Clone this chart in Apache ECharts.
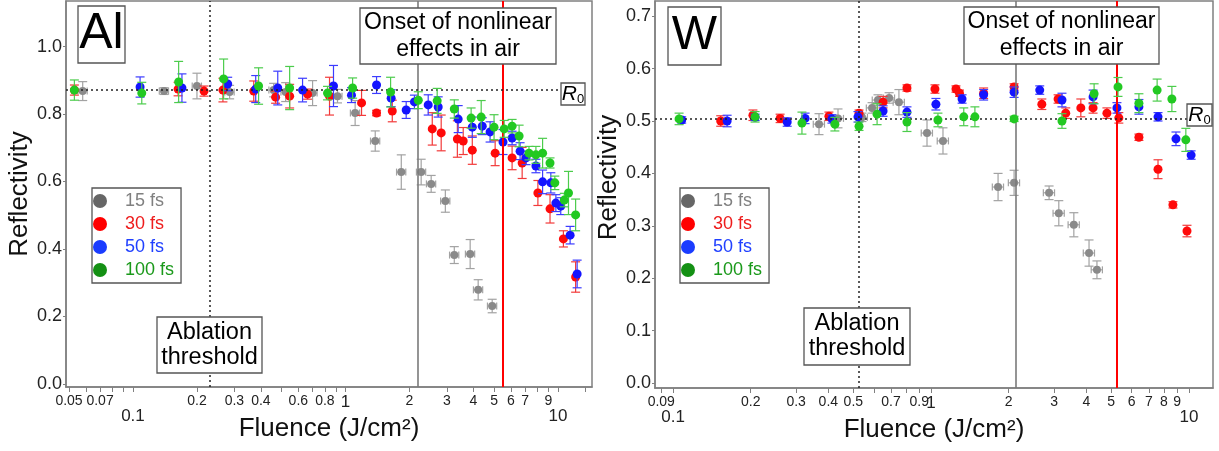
<!DOCTYPE html>
<html><head><meta charset="utf-8">
<script src="https://cdn.jsdelivr.net/npm/echarts@6/dist/echarts.min.js"></script>
<style>html,body{margin:0;padding:0;background:#fff}#c{width:1219px;height:451px}</style>
</head><body><div id="c"></div>
<script>
const seriesNames = ['15 fs', '30 fs', '50 fs', '100 fs'];

// ---- Al panel data (fluence J/cm2, reflectivity, y error) ----
const al15F = [0.058, 0.140, 0.200, 0.285, 0.459, 0.523, 0.700, 0.917, 1.11, 1.38, 1.83, 2.27, 2.53, 2.95, 3.25, 3.86, 4.21, 4.90];
const al15R = [0.868, 0.868, 0.883, 0.865, 0.871, 0.865, 0.862, 0.853, 0.803, 0.720, 0.628, 0.628, 0.593, 0.542, 0.382, 0.385, 0.279, 0.231];
const al15E = [0.028, 0.010, 0.038, 0.020, 0.020, 0.028, 0.037, 0.020, 0.037, 0.030, 0.051, 0.038, 0.025, 0.033, 0.025, 0.043, 0.030, 0.020];

const al30F = [0.053, 0.163, 0.216, 0.265, 0.370, 0.469, 0.546, 0.663, 0.841, 1.19, 1.40, 1.66, 2.56, 2.82, 3.36, 3.58, 3.95, 5.06, 6.08, 6.78, 8.04, 9.17, 10.6, 12.1];
const al30R = [0.871, 0.874, 0.868, 0.871, 0.868, 0.850, 0.853, 0.859, 0.853, 0.833, 0.803, 0.809, 0.756, 0.744, 0.726, 0.720, 0.693, 0.684, 0.670, 0.655, 0.566, 0.519, 0.430, 0.317];
const al30E = [0.015, 0.020, 0.015, 0.035, 0.030, 0.018, 0.035, 0.015, 0.056, 0.037, 0.008, 0.032, 0.048, 0.053, 0.054, 0.040, 0.042, 0.037, 0.035, 0.046, 0.037, 0.042, 0.024, 0.045];

const al50F = [0.108, 0.170, 0.279, 0.378, 0.480, 0.628, 0.878, 1.067, 1.40, 1.64, 1.93, 2.11, 2.45, 2.73, 3.39, 3.95, 4.40, 4.79, 5.51, 6.08, 6.63, 7.07, 7.87, 8.46, 9.25, 9.77, 10.3, 11.4, 12.3];
const al50R = [0.880, 0.877, 0.889, 0.874, 0.877, 0.871, 0.883, 0.856, 0.886, 0.847, 0.812, 0.836, 0.827, 0.821, 0.785, 0.761, 0.764, 0.747, 0.717, 0.729, 0.690, 0.670, 0.646, 0.599, 0.596, 0.536, 0.527, 0.441, 0.326];
const al50E = [0.030, 0.042, 0.020, 0.040, 0.050, 0.035, 0.061, 0.022, 0.025, 0.025, 0.025, 0.020, 0.030, 0.030, 0.040, 0.030, 0.025, 0.030, 0.037, 0.020, 0.025, 0.020, 0.020, 0.035, 0.030, 0.025, 0.025, 0.026, 0.041];

const al100F = [0.053, 0.110, 0.164, 0.267, 0.390, 0.546, 0.823, 1.08, 1.63, 2.20, 2.70, 3.25, 3.90, 4.35, 5.00, 5.58, 6.08, 6.56, 7.30, 7.87, 8.46, 9.17, 9.66, 10.7, 11.2, 12.1];
const al100R = [0.871, 0.862, 0.895, 0.904, 0.883, 0.877, 0.862, 0.877, 0.865, 0.841, 0.839, 0.815, 0.788, 0.791, 0.761, 0.756, 0.764, 0.735, 0.684, 0.679, 0.684, 0.655, 0.596, 0.545, 0.566, 0.501];
const al100E = [0.030, 0.032, 0.061, 0.059, 0.054, 0.064, 0.020, 0.030, 0.044, 0.025, 0.037, 0.027, 0.030, 0.049, 0.037, 0.025, 0.020, 0.032, 0.020, 0.025, 0.044, 0.015, 0.020, 0.020, 0.064, 0.047];

// ---- W panel data ----
const w15F = [0.368, 0.436, 0.540, 0.591, 0.623, 0.688, 0.751, 0.965, 1.113, 1.82, 2.10, 2.87, 3.13, 3.58, 4.10, 4.40];
const w15R = [0.494, 0.505, 0.507, 0.525, 0.540, 0.544, 0.536, 0.477, 0.462, 0.374, 0.382, 0.363, 0.324, 0.302, 0.248, 0.216];
const w15E = [0.020, 0.018, 0.008, 0.010, 0.010, 0.010, 0.024, 0.025, 0.025, 0.026, 0.024, 0.013, 0.024, 0.023, 0.025, 0.017];

const w30F = [0.153, 0.204, 0.260, 0.402, 0.526, 0.652, 0.807, 1.036, 1.25, 1.29, 1.60, 2.10, 2.69, 3.11, 3.33, 3.81, 4.25, 4.81, 5.35, 6.40, 7.59, 8.67, 9.83];
const w30R = [0.500, 0.511, 0.505, 0.509, 0.515, 0.536, 0.563, 0.561, 0.561, 0.553, 0.553, 0.565, 0.532, 0.542, 0.515, 0.525, 0.525, 0.515, 0.506, 0.469, 0.408, 0.340, 0.290];
const w30E = [0.010, 0.010, 0.008, 0.008, 0.006, 0.011, 0.006, 0.008, 0.006, 0.006, 0.010, 0.006, 0.010, 0.008, 0.010, 0.017, 0.010, 0.010, 0.010, 0.006, 0.018, 0.006, 0.011];

const w50F = [0.108, 0.162, 0.208, 0.277, 0.325, 0.413, 0.521, 0.652, 0.807, 1.045, 1.32, 1.60, 2.10, 2.64, 3.22, 4.25, 5.26, 6.40, 7.59, 8.91, 10.2];
const w50R = [0.502, 0.500, 0.507, 0.498, 0.505, 0.504, 0.508, 0.519, 0.517, 0.532, 0.542, 0.550, 0.555, 0.559, 0.540, 0.546, 0.525, 0.527, 0.508, 0.466, 0.435];
const w50E = [0.006, 0.011, 0.006, 0.008, 0.010, 0.008, 0.010, 0.010, 0.010, 0.011, 0.008, 0.010, 0.010, 0.008, 0.013, 0.013, 0.010, 0.014, 0.008, 0.013, 0.008];

const w100F = [0.1055, 0.208, 0.316, 0.424, 0.526, 0.618, 0.807, 1.064, 1.34, 1.48, 2.10, 3.22, 4.29, 5.31, 6.40, 7.53, 8.59, 9.73];
const w100R = [0.504, 0.508, 0.496, 0.494, 0.490, 0.513, 0.498, 0.502, 0.508, 0.508, 0.504, 0.500, 0.552, 0.565, 0.534, 0.559, 0.542, 0.464];
const w100E = [0.011, 0.010, 0.021, 0.013, 0.008, 0.020, 0.018, 0.013, 0.017, 0.019, 0.005, 0.014, 0.019, 0.018, 0.018, 0.021, 0.024, 0.022];

// relative fluence uncertainty per pulse duration
const xErrRel = [0.05, 0, 0, 0];

// ---- axes: ticks and labels ----
const alXRange = [0.0484, 14.45];
const wXRange = [0.0851, 12.4];
const alYRange = [-0.009, 1.135];
const wYRange = [-0.0095, 0.729];
const alXTicks = [0.05, 0.06, 0.07, 0.08, 0.09, 0.1, 0.2, 0.3, 0.4, 0.5, 0.6, 0.7, 0.8, 0.9, 1, 2, 3, 4, 5, 6, 7, 8, 9, 10, 13.5];
const alXLabels = [0.05, 0.07, 0.2, 0.3, 0.4, 0.6, 0.8, 1, 2, 3, 4, 5, 6, 7, 9];
const alXLabelsLow = [0.1, 10];
const wXTicks = [0.09, 0.1, 0.2, 0.3, 0.4, 0.5, 0.6, 0.7, 0.8, 0.9, 1, 2, 3, 4, 5, 6, 7, 8, 9, 10];
const wXLabels = [0.09, 0.2, 0.3, 0.4, 0.5, 0.7, 0.9, 1, 2, 3, 4, 5, 6, 7, 8, 9];
const wXLabelsLow = [0.1, 10];
const alYTicks = [0, 0.2, 0.4, 0.6, 0.8, 1.0];
const wYTicks = [0, 0.1, 0.2, 0.3, 0.4, 0.5, 0.6, 0.7];

// ---- reference lines ----
const alAblation = 0.2275, alOnsetGray = 2.18, alOnsetRed = 5.46, alR0 = 0.871, alR0End = 10.2;
const wAblation = 0.526, wOnsetGray = 2.12, wOnsetRed = 5.26, wR0 = 0.504, wR0End = 9.83;

const pointColors = ['#8a8a8a', '#ff0a0a', '#1414ff', '#22c922'];
const barColors = ['#a2a2a2', '#f23a3a', '#3c3cff', '#4ccc4c'];
const legendIconColors = ['#666666', '#ff0000', '#1a3cff', '#149014'];
const legendTextColors = ['#808080', '#ee1c1c', '#2040ff', '#1a991a'];
const FONT = '"Liberation Sans", Arial, sans-serif';

const lg = Math.log10;

function fmt(v) {
  const s = String(Number(Math.pow(10, v).toPrecision(3)));
  if (s === '1') return '{b|1}';
  return s;
}

function errRender(xr, color) {
  return function (params, api) {
    const lx = api.value(0), y = api.value(1), e = api.value(2);
    const c = api.coord([lx, y]);
    const t = api.coord([lx, y + e]);
    const b = api.coord([lx, y - e]);
    const st = { stroke: color, lineWidth: 1.2 };
    const cap = 4.5;
    const ch = [
      { type: 'line', shape: { x1: c[0], y1: t[1], x2: c[0], y2: b[1] }, style: st },
      { type: 'line', shape: { x1: c[0] - cap, y1: t[1], x2: c[0] + cap, y2: t[1] }, style: st },
      { type: 'line', shape: { x1: c[0] - cap, y1: b[1], x2: c[0] + cap, y2: b[1] }, style: st }
    ];
    if (xr > 0) {
      const l = api.coord([lx + lg(1 - xr), y]);
      const r = api.coord([lx + lg(1 + xr), y]);
      ch.push({ type: 'line', shape: { x1: l[0], y1: c[1], x2: r[0], y2: c[1] }, style: st });
      ch.push({ type: 'line', shape: { x1: l[0], y1: c[1] - 3.5, x2: l[0], y2: c[1] + 3.5 }, style: st });
      ch.push({ type: 'line', shape: { x1: r[0], y1: c[1] - 3.5, x2: r[0], y2: c[1] + 3.5 }, style: st });
    }
    return { type: 'group', children: ch };
  };
}

const panels = [
  { F: [al15F, al30F, al50F, al100F], R: [al15R, al30R, al50R, al100R], E: [al15E, al30E, al50E, al100E],
    xAxis: 0, yAxis: 0, xr: alXRange, abl: alAblation, og: alOnsetGray, orr: alOnsetRed, r0: alR0, r0End: alR0End },
  { F: [w15F, w30F, w50F, w100F], R: [w15R, w30R, w50R, w100R], E: [w15E, w30E, w50E, w100E],
    xAxis: 2, yAxis: 1, xr: wXRange, abl: wAblation, og: wOnsetGray, orr: wOnsetRed, r0: wR0, r0End: wR0End }
];

const series = [];
panels.forEach(p => {
  const dotted = { type: [2, 3], color: '#222', width: 1.5 };
  series.push({
    type: 'scatter', xAxisIndex: p.xAxis, yAxisIndex: p.yAxis, data: [], silent: true,
    markLine: {
      silent: true, symbol: ['none', 'none'], label: { show: false }, animation: false,
      data: [
        { xAxis: lg(p.abl), lineStyle: dotted },
        { xAxis: lg(p.og), lineStyle: { type: 'solid', color: '#7a7a7a', width: 1.6 } },
        { xAxis: lg(p.orr), lineStyle: { type: 'solid', color: '#ff0000', width: 2 } },
        [{ coord: [lg(p.xr[0]), p.r0], lineStyle: dotted }, { coord: [lg(p.r0End), p.r0] }]
      ]
    }
  });
  for (let k = 0; k < 4; k++) {
    const data = p.F[k].map((f, i) => [lg(f), p.R[k][i], p.E[k][i]]);
    series.push({
      type: 'custom', name: seriesNames[k], xAxisIndex: p.xAxis, yAxisIndex: p.yAxis,
      renderItem: errRender(xErrRel[k], barColors[k]), data: data,
      encode: { x: 0, y: 1 }, z: 2 + k, silent: true, itemStyle: { color: pointColors[k] }
    });
    series.push({
      type: 'scatter', name: seriesNames[k], xAxisIndex: p.xAxis, yAxisIndex: p.yAxis,
      data: data.map(d => [d[0], d[1]]), symbolSize: k === 0 ? 8 : 9, z: 2 + k,
      itemStyle: { color: pointColors[k], opacity: 1 }
    });
  }
});

function xMain(grid, range, ticks, labels, name) {
  return {
    type: 'value', gridIndex: grid, min: lg(range[0]), max: lg(range[1]), position: 'bottom',
    name: name, nameLocation: 'middle', nameGap: 27,
    nameTextStyle: { fontSize: 26, color: '#111', fontFamily: FONT },
    splitLine: { show: false },
    axisLine: { show: true, onZero: false, lineStyle: { color: '#808080', width: 1.5 } },
    axisTick: { show: true, length: 5, lineStyle: { color: '#808080', width: 1 }, customValues: ticks.map(lg) },
    axisLabel: { customValues: labels.map(lg), formatter: fmt, fontSize: 14, color: '#222', margin: 7, fontFamily: FONT,
      rich: { b: { fontSize: 17, color: '#222', fontFamily: FONT } } }
  };
}
function xLow(grid, range, labels) {
  return {
    type: 'value', gridIndex: grid, min: lg(range[0]), max: lg(range[1]), position: 'bottom', offset: 0,
    splitLine: { show: false }, axisLine: { show: false, onZero: false }, axisTick: { show: false },
    axisLabel: { customValues: labels.map(lg), formatter: v => String(Number(Math.pow(10, v).toPrecision(3))),
      fontSize: 17, color: '#222', margin: 21, fontFamily: FONT }
  };
}
function yMain(grid, range, ticks, pad) {
  return {
    type: 'value', gridIndex: grid, min: range[0], max: range[1], position: 'left',
    name: 'Reflectivity', nameLocation: 'middle', nameGap: 31,
    nameTextStyle: { fontSize: 26, color: '#111', fontFamily: FONT, padding: pad },
    splitLine: { show: false },
    axisLine: { show: true, onZero: false, lineStyle: { color: '#808080', width: 1.5 } },
    axisTick: { show: true, length: 3, lineStyle: { color: '#808080' }, customValues: ticks },
    axisLabel: { customValues: ticks, formatter: v => v.toFixed(1), fontSize: 18, color: '#222', margin: 4, fontFamily: FONT }
  };
}

function box(x, y, w, h, text, fontSize, lineHeight, rich) {
  const els = [
    { type: 'rect', z: 100, shape: { x: x, y: y, width: w, height: h },
      style: { fill: '#fff', stroke: '#555', lineWidth: 1.3 } },
    { type: 'text', z: 101, x: x + w / 2, y: y + h / 2,
      style: { text: text, fontSize: fontSize, lineHeight: lineHeight, fontFamily: FONT, fill: '#000',
        align: 'center', verticalAlign: 'middle', rich: rich } }
  ];
  return els;
}
const r0Rich = { i: { fontSize: 21, fontStyle: 'italic', fontFamily: FONT, fill: '#000' },
                 s: { fontSize: 13, fontFamily: FONT, fill: '#000', padding: [10, 0, 0, 0] } };

const graphics = [].concat(
  box(78, 6, 47, 57, 'Al', 50, 52),
  box(668, 7, 53, 58, 'W', 48, 52),
  box(360, 8, 196, 56, 'Onset of nonlinear\neffects in air', 23, 27),
  box(964, 7, 195, 57, 'Onset of nonlinear\neffects in air', 23, 27),
  box(157, 317, 105, 56, 'Ablation\nthreshold', 23.5, 25),
  box(804, 308, 106, 57, 'Ablation\nthreshold', 23.5, 25),
  box(561, 83, 24, 22, '{i|R}{s|0}', 21, 22, r0Rich),
  box(1187, 104, 25, 22, '{i|R}{s|0}', 21, 22, r0Rich)
);

function legendCfg(left) {
  return {
    left: left, top: 188, orient: 'vertical', icon: 'circle',
    itemWidth: 40, itemHeight: 14, itemGap: 5,
    padding: [4, 7, 4, 1], borderColor: '#555', borderWidth: 1.3, backgroundColor: '#fff',
    textStyle: { fontSize: 18, fontFamily: FONT },
    data: seriesNames.map((n, k) => ({ name: n, itemStyle: { color: legendIconColors[k] },
      textStyle: { color: legendTextColors[k], fontSize: 18, fontFamily: FONT } }))
  };
}

const chart = echarts.init(document.getElementById('c'));
chart.setOption({
  animation: false,
  backgroundColor: '#fff',
  grid: [
    { left: 66, top: 1, width: 526, height: 386, show: true, borderColor: '#808080', borderWidth: 1.5 },
    { left: 655, top: 1, width: 558, height: 387, show: true, borderColor: '#808080', borderWidth: 1.5 }
  ],
  xAxis: [
    xMain(0, alXRange, alXTicks, alXLabels, 'Fluence (J/cm²)'),
    xLow(0, alXRange, alXLabelsLow),
    xMain(1, wXRange, wXTicks, wXLabels, 'Fluence (J/cm²)'),
    xLow(1, wXRange, wXLabelsLow)
  ],
  yAxis: [
    yMain(0, alYRange, alYTicks, [0, 0, 0, 0]),
    yMain(1, wYRange, wYTicks, [0, 0, 0, 34])
  ],
  legend: [legendCfg(92), legendCfg(680)],
  graphic: graphics,
  series: series
});
</script>
</body></html>
